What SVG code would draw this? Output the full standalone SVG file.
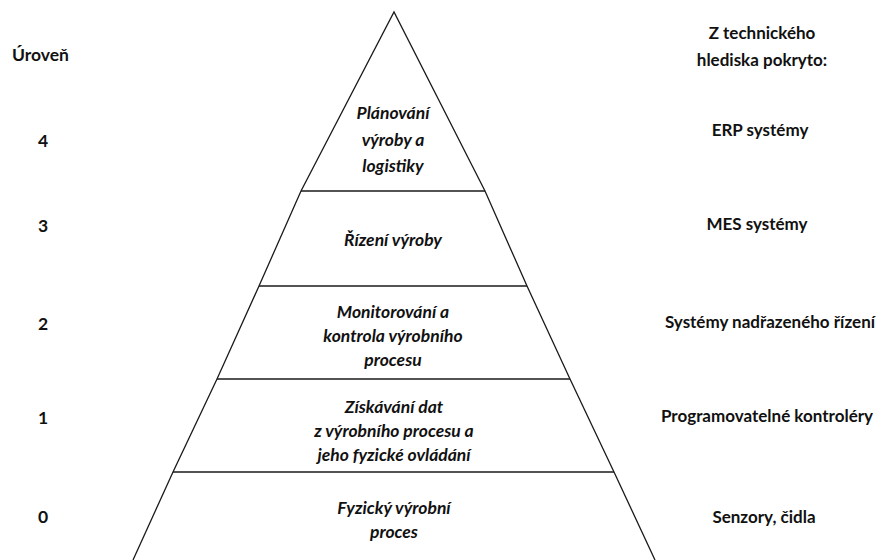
<svg xmlns="http://www.w3.org/2000/svg" width="880" height="560" viewBox="0 0 880 560">
<style>
.edge{fill:none;stroke:#1a1a1a;stroke-width:1.3}
.sep{stroke:#1a1a1a;stroke-width:1.6}
.lvl{font-family:Lato,"Open Sans","Liberation Sans",sans-serif;font-weight:bold;font-style:italic;font-size:17.5px;fill:#111;text-anchor:middle}
.num{font-family:Lato,"Open Sans","Liberation Sans",sans-serif;font-weight:bold;font-size:17.5px;fill:#111}
.rt{font-family:Lato,"Open Sans","Liberation Sans",sans-serif;font-weight:bold;font-size:17px;fill:#111;text-anchor:middle}
.hd{font-family:Lato,"Open Sans","Liberation Sans",sans-serif;font-weight:bold;font-size:17px;fill:#111;text-anchor:middle}
</style>
<rect width="880" height="560" fill="#fff"/>
<g id="connectors">
<polyline class="edge" points="133,560 173,472 217,379 259,286 301,191 394,12 485,191 527,286 570,379 614,472 655,560"/>
<line class="sep" x1="301" y1="191" x2="485" y2="191"/>
<line class="sep" x1="259" y1="286" x2="527" y2="286"/>
<line class="sep" x1="217" y1="379" x2="570" y2="379"/>
<line class="sep" x1="173" y1="472" x2="614" y2="472"/>
</g>
<g id="level4">
<text class="lvl" x="393" y="119">Plánování</text>
<text class="lvl" x="393" y="146">výroby a</text>
<text class="lvl" x="393" y="172">logistiky</text>
</g>
<g id="level3">
<text class="lvl" x="393" y="246">Řízení výroby</text>
</g>
<g id="level2">
<text class="lvl" x="393" y="318">Monitorování a</text>
<text class="lvl" x="393" y="342">kontrola výrobního</text>
<text class="lvl" x="393" y="366">procesu</text>
</g>
<g id="level1">
<text class="lvl" x="394" y="413">Získávání dat</text>
<text class="lvl" x="394" y="437">z výrobního procesu a</text>
<text class="lvl" x="394" y="461">jeho fyzické ovládání</text>
</g>
<g id="level0">
<text class="lvl" x="394" y="514">Fyzický výrobní</text>
<text class="lvl" x="394" y="538">proces</text>
</g>
<g id="levels">
<text class="num" x="12" y="61">Úroveň</text>
<text class="num" x="38" y="147">4</text>
<text class="num" x="38" y="232">3</text>
<text class="num" x="38" y="330">2</text>
<text class="num" x="38" y="424">1</text>
<text class="num" x="38" y="523">0</text>
</g>
<g id="coverage">
<text class="hd" x="762" y="39">Z technického</text>
<text class="hd" x="762" y="66">hlediska pokryto:</text>
<text class="rt" x="760" y="136">ERP systémy</text>
<text class="rt" x="757" y="230">MES systémy</text>
<text class="rt" x="770" y="328">Systémy nadřazeného řízení</text>
<text class="rt" x="767" y="422">Programovatelné kontroléry</text>
<text class="rt" x="764" y="523">Senzory, čidla</text>
</g>
</svg>
